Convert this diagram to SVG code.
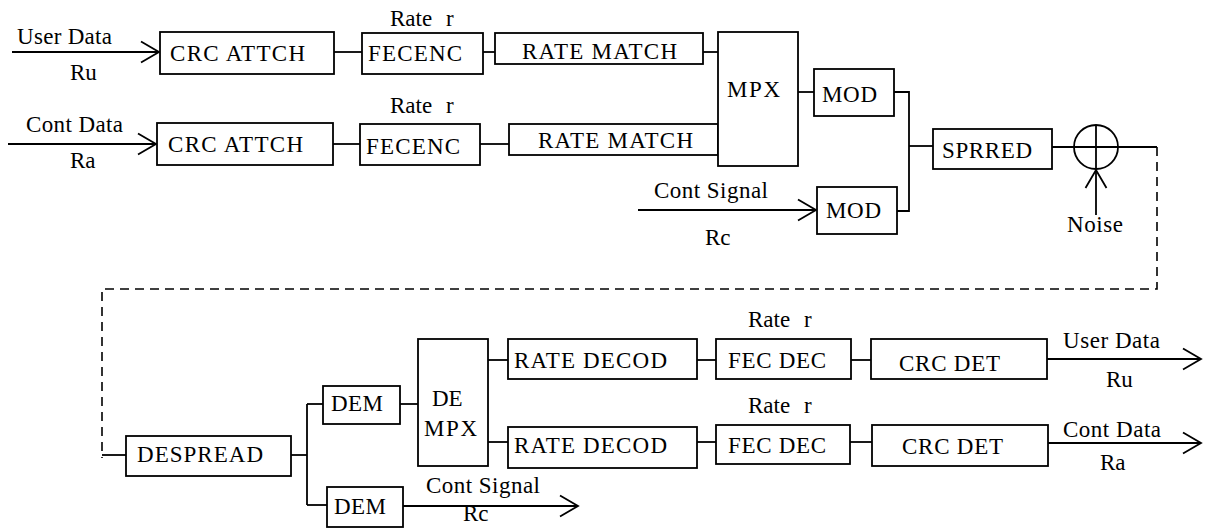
<svg xmlns="http://www.w3.org/2000/svg" width="1205" height="528" viewBox="0 0 1205 528">
  <style>
    .box { fill: #fff; stroke: #000; stroke-width: 1.8; }
    .ln { fill: none; stroke: #000; stroke-width: 1.8; }
    .dash { fill: none; stroke: #000; stroke-width: 1.6; stroke-dasharray: 9 6; }
    text { font-family: "Liberation Serif", "Times New Roman", "DejaVu Serif", serif; font-size: 23px; fill: #000; }
  </style>
  <defs>
    <marker id="chev" markerUnits="userSpaceOnUse" markerWidth="24" markerHeight="26" viewBox="-20 -13 24 26" refX="0" refY="0" orient="auto">
      <path d="M-18,-10.5 L0,0 L-18,10.5" fill="none" stroke="#000" stroke-width="1.8"/>
    </marker>
  </defs>
  <rect width="1205" height="528" fill="#fff"/>

  <!-- connectors -->
  <g id="connectors">
    <!-- transmitter inputs -->
    <line class="ln" x1="12" y1="52" x2="159" y2="52" marker-end="url(#chev)"/>
    <line class="ln" x1="8" y1="144" x2="156" y2="144" marker-end="url(#chev)"/>
    <line class="ln" x1="638" y1="210" x2="816" y2="210" marker-end="url(#chev)"/>
    <!-- chain links, row 1 -->
    <line class="ln" x1="334" y1="52" x2="362" y2="52"/>
    <line class="ln" x1="483" y1="52" x2="495" y2="52"/>
    <line class="ln" x1="703" y1="52" x2="718" y2="52"/>
    <!-- chain links, row 2 -->
    <line class="ln" x1="333" y1="144" x2="360" y2="144"/>
    <line class="ln" x1="480" y1="144" x2="509" y2="144"/>
    <!-- MPX to modulators to spreader -->
    <line class="ln" x1="798" y1="92" x2="814" y2="92"/>
    <polyline class="ln" points="894,92 909,92 909,211 897,211"/>
    <line class="ln" x1="909" y1="146" x2="933" y2="146"/>
    <line class="ln" x1="1052" y1="147" x2="1157" y2="147"/>
    <!-- noise input -->
    <line class="ln" x1="1096" y1="215" x2="1096" y2="170" marker-end="url(#chev)"/>
    <!-- channel (dashed) -->
    <polyline class="dash" points="1157,147 1157,289 102,289 102,458"/>
    <line class="ln" x1="102" y1="455" x2="126" y2="455"/>
    <!-- receiver -->
    <line class="ln" x1="291" y1="455" x2="307" y2="455"/>
    <line class="ln" x1="307" y1="404" x2="307" y2="505"/>
    <line class="ln" x1="307" y1="404" x2="323" y2="404"/>
    <line class="ln" x1="307" y1="505" x2="327" y2="505"/>
    <line class="ln" x1="400" y1="404" x2="418" y2="404"/>
    <line class="ln" x1="403" y1="506" x2="578" y2="506" marker-end="url(#chev)"/>
    <line class="ln" x1="488" y1="360" x2="508" y2="360"/>
    <line class="ln" x1="488" y1="442" x2="508" y2="442"/>
    <line class="ln" x1="697" y1="360" x2="716" y2="360"/>
    <line class="ln" x1="697" y1="442" x2="716" y2="442"/>
    <line class="ln" x1="851" y1="360" x2="871" y2="360"/>
    <line class="ln" x1="850" y1="442" x2="872" y2="442"/>
    <line class="ln" x1="1047" y1="359" x2="1201" y2="359" marker-end="url(#chev)"/>
    <line class="ln" x1="1048" y1="443" x2="1201" y2="443" marker-end="url(#chev)"/>
  </g>

  <!-- signal labels -->
  <g id="labels">
    <text x="17" y="44" textLength="95">User Data</text>
    <text x="70" y="80">Ru</text>
    <text x="26" y="132" textLength="97">Cont Data</text>
    <text x="70" y="168">Ra</text>
    <text x="390" y="26">Rate<tspan x="446">r</tspan></text>
    <text x="390" y="113">Rate<tspan x="446">r</tspan></text>
    <text x="654" y="198" textLength="114">Cont Signal</text>
    <text x="705" y="245">Rc</text>
    <text x="1067" y="232" textLength="56">Noise</text>
    <text x="748" y="327">Rate<tspan x="804">r</tspan></text>
    <text x="748" y="413">Rate<tspan x="804">r</tspan></text>
    <text x="1063" y="348" textLength="97">User Data</text>
    <text x="1106" y="387">Ru</text>
    <text x="1063" y="437" textLength="98">Cont Data</text>
    <text x="1100" y="470">Ra</text>
    <text x="426" y="493" textLength="114">Cont Signal</text>
    <text x="463" y="521">Rc</text>
  </g>

  <!-- transmitter -->
  <g id="crc-attch-1"><rect class="box" x="160" y="32" width="174" height="42"/><text x="170" y="61" textLength="135">CRC ATTCH</text></g>
  <g id="fecenc-1"><rect class="box" x="362" y="33" width="121" height="41"/><text x="368" y="61" textLength="94">FECENC</text></g>
  <g id="rate-match-1"><rect class="box" x="495" y="33" width="208" height="31"/><text x="522" y="59" textLength="155">RATE MATCH</text></g>
  <g id="crc-attch-2"><rect class="box" x="157" y="123" width="176" height="42"/><text x="168" y="152" textLength="135">CRC ATTCH</text></g>
  <g id="fecenc-2"><rect class="box" x="360" y="124" width="120" height="41"/><text x="366" y="154" textLength="94">FECENC</text></g>
  <g id="rate-match-2"><rect class="box" x="509" y="124" width="209" height="31"/><text x="538" y="148" textLength="155">RATE MATCH</text></g>
  <g id="mpx"><rect class="box" x="718" y="32" width="80" height="134"/><text x="727" y="97" textLength="53">MPX</text></g>
  <g id="mod-1"><rect class="box" x="814" y="69" width="80" height="47"/><text x="822" y="102" textLength="55">MOD</text></g>
  <g id="mod-2"><rect class="box" x="817" y="187" width="80" height="47"/><text x="826" y="218" textLength="55">MOD</text></g>
  <g id="sprred"><rect class="box" x="933" y="129" width="119" height="40"/><text x="942" y="158" textLength="90">SPRRED</text></g>
  <g id="adder">
    <circle class="ln" cx="1096" cy="147" r="22"/>
    <line class="ln" x1="1096" y1="125" x2="1096" y2="169"/>
  </g>

  <!-- receiver -->
  <g id="despread"><rect class="box" x="126" y="436" width="165" height="40"/><text x="137" y="462" textLength="126">DESPREAD</text></g>
  <g id="dem-1"><rect class="box" x="323" y="386" width="77" height="38"/><text x="331" y="411" textLength="52">DEM</text></g>
  <g id="dem-2"><rect class="box" x="327" y="487" width="76" height="40"/><text x="334" y="514" textLength="52">DEM</text></g>
  <g id="de-mpx"><rect class="box" x="418" y="339" width="70" height="127"/><text x="432" y="406">DE</text><text x="424" y="436" textLength="53">MPX</text></g>
  <g id="rate-decod-1"><rect class="box" x="508" y="339" width="189" height="40"/><text x="514" y="368" textLength="153">RATE DECOD</text></g>
  <g id="rate-decod-2"><rect class="box" x="508" y="427" width="189" height="41"/><text x="514" y="453" textLength="153">RATE DECOD</text></g>
  <g id="fec-dec-1"><rect class="box" x="716" y="339" width="135" height="40"/><text x="728" y="368" textLength="98">FEC DEC</text></g>
  <g id="fec-dec-2"><rect class="box" x="716" y="425" width="134" height="39"/><text x="728" y="453" textLength="98">FEC DEC</text></g>
  <g id="crc-det-1"><rect class="box" x="871" y="339" width="176" height="40"/><text x="899" y="371" textLength="101">CRC DET</text></g>
  <g id="crc-det-2"><rect class="box" x="872" y="425" width="176" height="41"/><text x="902" y="454" textLength="101">CRC DET</text></g>
</svg>
